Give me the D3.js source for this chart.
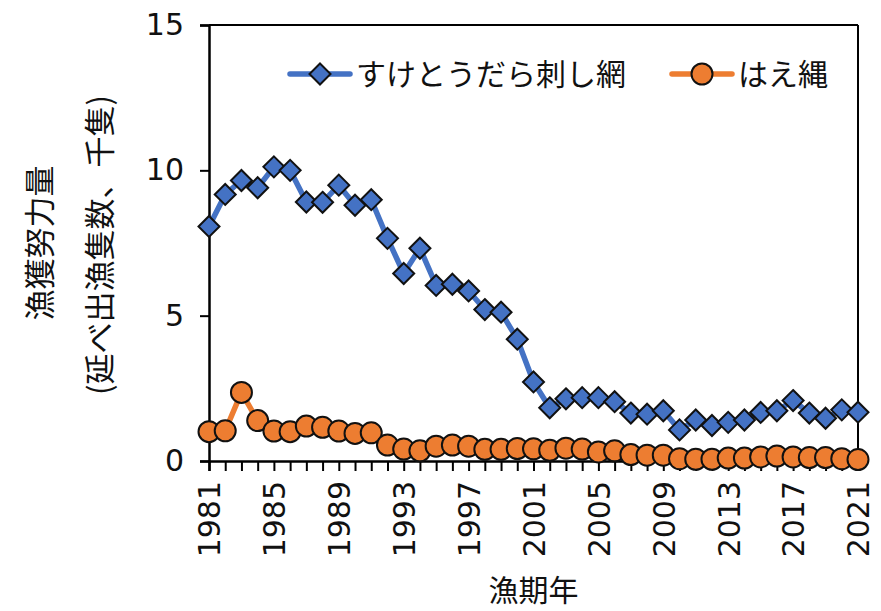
<!DOCTYPE html>
<html><head><meta charset="utf-8">
<script src="https://cdn.jsdelivr.net/npm/d3@7"></script>
<style>body{margin:0;background:#fff}</style>
</head><body><svg id="c" width="881" height="611"></svg>
<script>
const years = [1981,1982,1983,1984,1985,1986,1987,1988,1989,1990,1991,1992,1993,1994,1995,1996,1997,1998,1999,2000,
  2001,2002,2003,2004,2005,2006,2007,2008,2009,2010,2011,2012,2013,2014,2015,2016,2017,2018,2019,2020,2021];
const gillnet = [8.07,9.17,9.65,9.40,10.12,10.0,8.91,8.90,9.49,8.80,8.99,7.66,6.45,7.32,6.04,6.08,5.85,5.21,5.12,4.19,
  2.72,1.83,2.14,2.18,2.18,2.04,1.65,1.61,1.73,1.07,1.41,1.22,1.33,1.41,1.67,1.73,2.08,1.65,1.47,1.76,1.68];
const longline = [1.01,1.04,2.36,1.39,1.03,1.01,1.20,1.16,1.03,0.95,0.97,0.55,0.41,0.35,0.51,0.55,0.51,0.40,0.40,0.43,
  0.42,0.37,0.44,0.41,0.31,0.35,0.22,0.20,0.20,0.08,0.06,0.06,0.10,0.10,0.14,0.17,0.14,0.12,0.12,0.08,0.05];
const seriesNames = ["すけとうだら刺し網", "はえ縄"];
const seriesColors = ["#4472C4", "#ED7D31"];
const yTicks = [0, 5, 10, 15];
const xLabelYears = [1981,1985,1989,1993,1997,2001,2005,2009,2013,2017,2021];
const xTitle = "漁期年";
const yTitle1 = "漁獲努力量";
const yTitle2 = "(延べ出漁隻数、千隻)";

const svg = d3.select("#c");
const L = 209, R = 858, T = 25, B = 461;
const x = d3.scaleLinear().domain([1981, 2021]).range([L, R]);
const y = d3.scaleLinear().domain([0, 15]).range([B, T]);
const numFont = "'DejaVu Sans', Verdana, sans-serif";
const jpFont = "'Noto Sans CJK JP', sans-serif";

// frame top and right
svg.append("line").attr("x1", L).attr("x2", R).attr("y1", T).attr("y2", T).attr("stroke", "#000").attr("stroke-width", 2);
svg.append("line").attr("x1", R).attr("x2", R).attr("y1", T).attr("y2", B).attr("stroke", "#000").attr("stroke-width", 2);

// y axis
const ya = svg.append("g").attr("transform", `translate(${L},0)`)
  .call(d3.axisLeft(y).tickValues(yTicks).tickSize(9).tickPadding(16).tickFormat(d3.format("d")));
ya.select(".domain").attr("stroke", "#000").attr("stroke-width", 2.5);
ya.selectAll(".tick line").attr("stroke", "#000").attr("stroke-width", 2);
ya.selectAll("text").attr("font-family", numFont).attr("font-size", 30).attr("fill", "#111");

// x axis
const xa = svg.append("g").attr("transform", `translate(0,${B})`)
  .call(d3.axisBottom(x).tickValues(years).tickSize(10).tickFormat(d => xLabelYears.includes(d) ? String(d) : ""));
xa.select(".domain").attr("stroke", "#000").attr("stroke-width", 2.5);
xa.selectAll(".tick line").attr("stroke", "#000").attr("stroke-width", 2);
xa.selectAll("text").attr("font-family", numFont).attr("font-size", 30).attr("fill", "#111")
  .attr("text-anchor", "end").attr("x", 0).attr("y", 0).attr("dy", "0.36em")
  .attr("transform", "translate(0,20) rotate(-90)");

// titles
svg.append("text").attr("x", (L + R) / 2).attr("y", 601).attr("text-anchor", "middle")
  .attr("font-family", jpFont).attr("font-size", 30).attr("fill", "#111").text(xTitle);
svg.append("text").attr("transform", "translate(40,243) rotate(-90)").attr("text-anchor", "middle").attr("dy", "0.35em")
  .attr("font-family", jpFont).attr("font-size", 31).attr("fill", "#111").text(yTitle1);
svg.append("text").attr("transform", "translate(100,245) rotate(-90)").attr("text-anchor", "middle").attr("dy", "0.35em")
  .attr("font-family", jpFont).attr("font-size", 31).attr("fill", "#111").text(yTitle2);

const line = d3.line().x((d, i) => x(years[i])).y(d => y(d));
const diamond = r => `M0,${-r}L${r},0L0,${r}L${-r},0Z`;

// gillnet
svg.append("path").datum(gillnet).attr("d", line).attr("fill", "none")
  .attr("stroke", seriesColors[0]).attr("stroke-width", 5.5).attr("stroke-linejoin", "round");
svg.append("g").selectAll("path").data(gillnet).join("path")
  .attr("transform", (d, i) => `translate(${x(years[i])},${y(d)})`)
  .attr("d", diamond(10.5)).attr("fill", seriesColors[0]).attr("stroke", "#111").attr("stroke-width", 2);

// longline
svg.append("path").datum(longline).attr("d", line).attr("fill", "none")
  .attr("stroke", seriesColors[1]).attr("stroke-width", 5.5).attr("stroke-linejoin", "round");
svg.append("g").selectAll("circle").data(longline).join("circle")
  .attr("cx", (d, i) => x(years[i])).attr("cy", d => y(d)).attr("r", 10.5)
  .attr("fill", seriesColors[1]).attr("stroke", "#111").attr("stroke-width", 2);

// legend
const leg = [
  {x0: 290, name: seriesNames[0], color: seriesColors[0], shape: "d"},
  {x0: 672, name: seriesNames[1], color: seriesColors[1], shape: "c"}
];
const ly = 74;
leg.forEach(l => {
  const g = svg.append("g");
  g.append("line").attr("x1", l.x0).attr("x2", l.x0 + 60).attr("y1", ly).attr("y2", ly)
    .attr("stroke", l.color).attr("stroke-width", 5.5).attr("stroke-linecap", "round");
  if (l.shape === "d") {
    g.append("path").attr("transform", `translate(${l.x0 + 30},${ly})`).attr("d", diamond(10.5))
      .attr("fill", l.color).attr("stroke", "#111").attr("stroke-width", 2);
  } else {
    g.append("circle").attr("cx", l.x0 + 30).attr("cy", ly).attr("r", 10.5)
      .attr("fill", l.color).attr("stroke", "#111").attr("stroke-width", 2);
  }
  g.append("text").attr("x", l.x0 + 66).attr("y", ly).attr("dy", "0.35em")
    .attr("font-family", jpFont).attr("font-size", 30).attr("fill", "#111").text(l.name);
});
</script></body></html>
